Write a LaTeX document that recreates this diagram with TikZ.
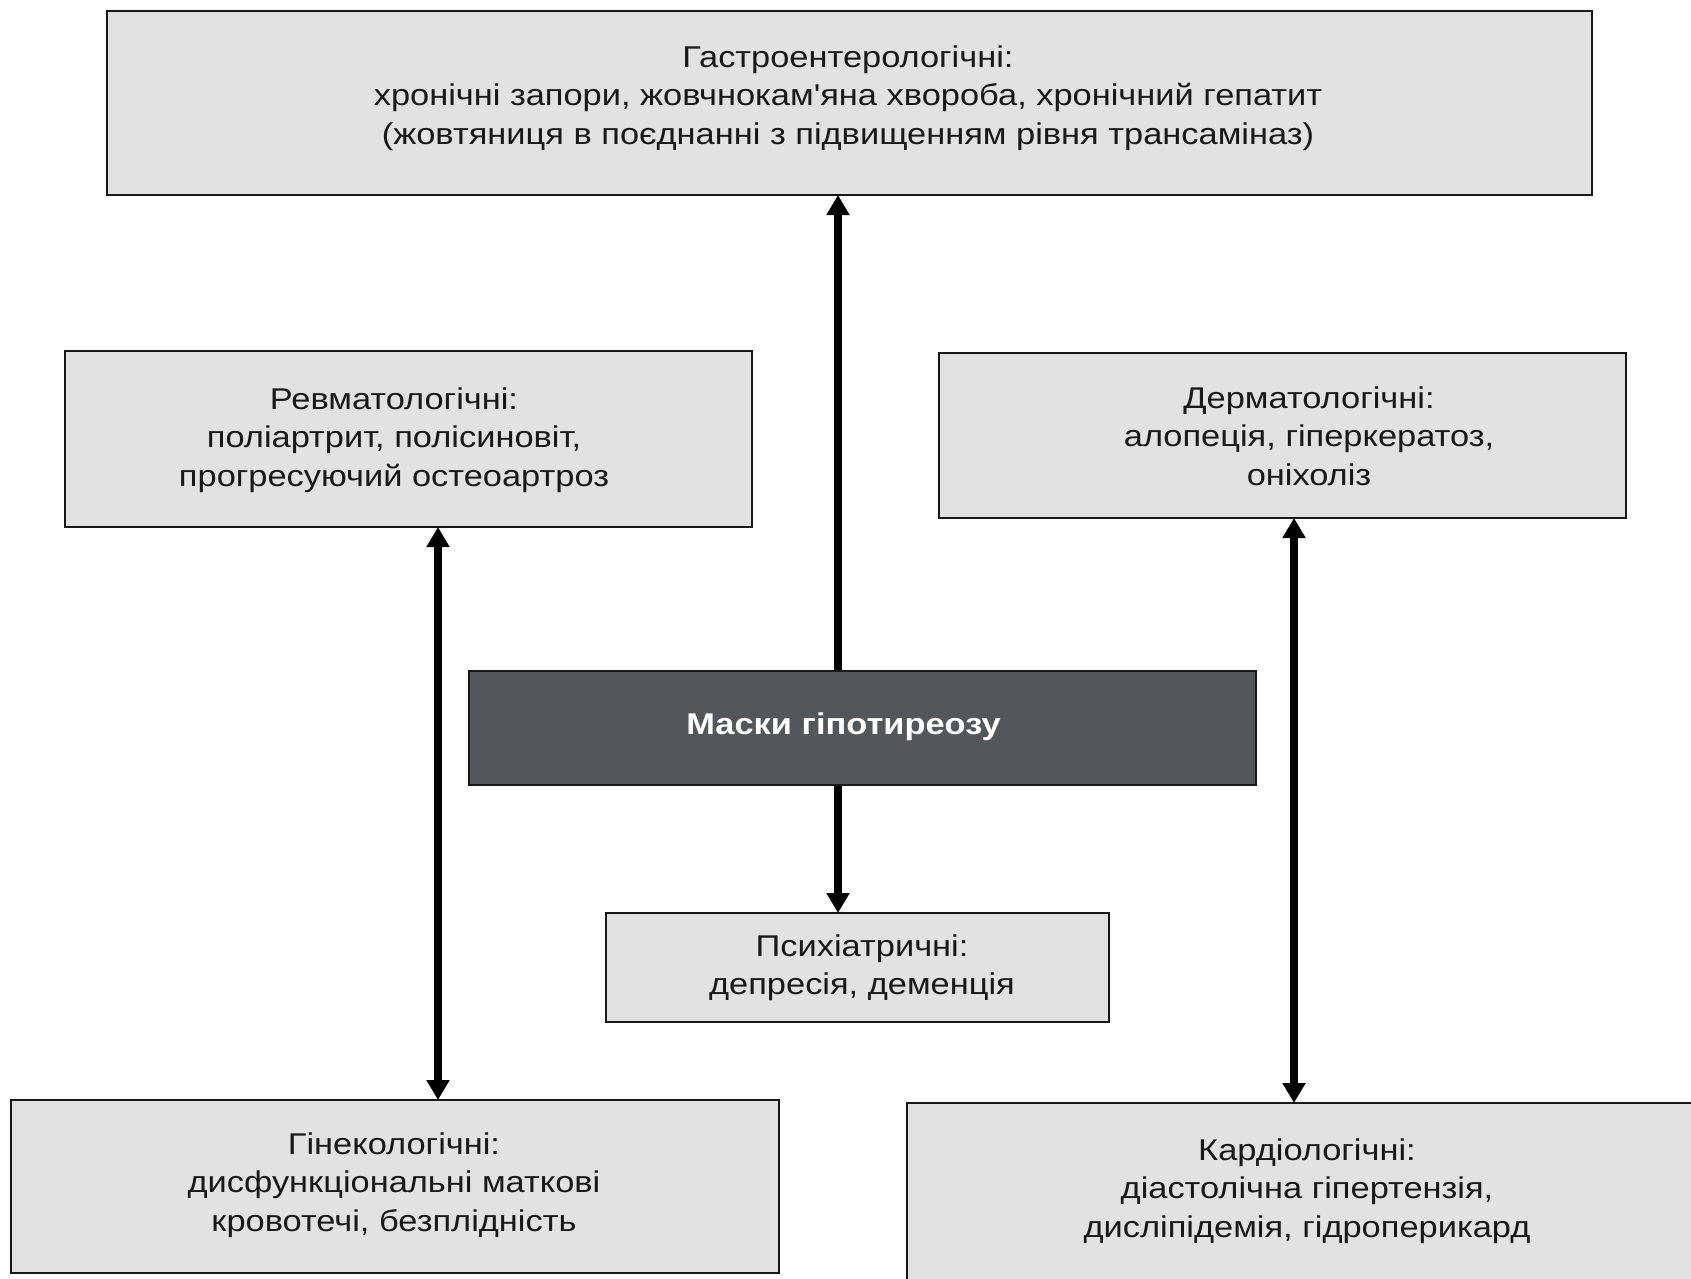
\documentclass[tikz,border=0pt]{standalone}
\usepackage{graphicx}
\usepackage{fontspec}
\setmainfont{Liberation Sans}[Ligatures=TeXOff]
\usetikzlibrary{arrows.meta}
\definecolor{boxfill}{RGB}{226,226,226}
\definecolor{darkfill}{RGB}{84,87,90}
\definecolor{ink}{RGB}{24,24,24}

% widened multi-line label text
\newcommand\widetext[1]{\scalebox{1.147}[1]{\begin{tabular}{@{}c@{}}#1\end{tabular}}}

\begin{document}
\begin{tikzpicture}[x=1pt,y=-1pt,
  box/.style={draw=ink, line width=2pt, fill=boxfill, rectangle, inner sep=0pt},
  darkbox/.style={box, fill=darkfill},
  lbl/.style={font=\fontsize{30}{38.5}\selectfont, text=ink, align=center, inner sep=0pt},
  arr/.style={line width=8pt, -{Triangle[width=22pt,length=20pt]}, shorten >=-1pt},
  biarr/.style={line width=8pt, {Triangle[width=22pt,length=20pt]}-{Triangle[width=22pt,length=20pt]}, shorten >=-1pt, shorten <=-1pt}]

\path[use as bounding box, clip] (0,0) rectangle (1691,1278);
\fill[white] (0,0) rectangle (1691,1278);

% boxes
\node[box, minimum width=1485, minimum height=184] (gastro) at (849.5,103) {};
\node[box, minimum width=687, minimum height=176] (rheum) at (408.5,439) {};
\node[box, minimum width=687, minimum height=165] (derm) at (1282.5,435.5) {};
\node[darkbox, minimum width=787, minimum height=114] (masks) at (862.5,728) {};
\node[box, minimum width=503, minimum height=109] (psych) at (857.5,967.5) {};
\node[box, minimum width=768, minimum height=173] (gyn) at (395,1186.5) {};
\node[box, minimum width=813, minimum height=197] (cardio) at (1313.5,1201.5) {};

% labels
\node[lbl] (gastroT) at (848,98) {\widetext{Гастроентерологічні:\\хронічні запори, жовчнокам'яна хвороба, хронічний гепатит\\(жовтяниця в поєднанні з підвищенням рівня трансаміназ)}};
\node[lbl] (rheumT) at (394,440) {\widetext{Ревматологічні:\\поліартрит, полісиновіт,\\прогресуючий остеоартроз}};
\node[lbl] (dermT) at (1309,439) {\widetext{Дерматологічні:\\алопеція, гіперкератоз,\\оніхоліз}};
\node[lbl, text=white, font=\bfseries\fontsize{30}{38.5}\selectfont] (masksT) at (843.5,727) {\widetext{Маски гіпотиреозу}};
\node[lbl] (psychT) at (862,968) {\widetext{Психіатричні:\\депресія, деменція}};
\node[lbl] (gynT) at (394,1185) {\widetext{Гінекологічні:\\дисфункціональні маткові\\кровотечі, безплідність}};
\node[lbl] (cardioT) at (1307,1191) {\widetext{Кардіологічні:\\діастолічна гіпертензія,\\дисліпідемія, гідроперикард}};

% connector columns
\coordinate (cx) at (838,0);
\coordinate (lx) at (438,0);
\coordinate (rx) at (1294,0);

% connectors
\draw[arr] (masks.north -| cx) -- (gastro.south -| cx);
\draw[arr] (masks.south -| cx) -- (psych.north -| cx);
\draw[biarr] (rheum.south -| lx) -- (gyn.north -| lx);
\draw[biarr] (derm.south -| rx) -- (cardio.north -| rx);
\end{tikzpicture}
\end{document}
